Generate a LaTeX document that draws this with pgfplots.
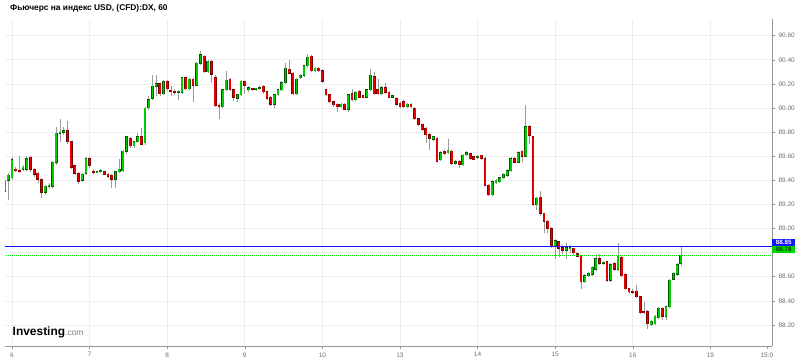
\documentclass[border=0pt]{standalone}
\usepackage{pgfplots}
\pgfplotsset{compat=1.18}
\usepackage{pgfplotstable}
\usepackage{fontspec}
\setmainfont{Liberation Sans}
\definecolor{cgreen}{RGB}{0,204,0}
\definecolor{cgreenD}{RGB}{0,85,0}
\definecolor{cred}{RGB}{230,0,0}
\definecolor{credD}{RGB}{120,0,0}
\definecolor{wick}{RGB}{155,155,155}
\definecolor{lblue}{RGB}{20,20,255}
\definecolor{lgreen}{RGB}{0,215,0}
\definecolor{ldot}{RGB}{0,225,0}
\definecolor{gridc}{RGB}{238,238,238}
\definecolor{axc}{RGB}{150,150,150}
\definecolor{tickc}{RGB}{110,110,110}

\pgfplotstableread{
i o h l c
-2 89.31 89.42 89.28 89.40
-1 89.40 89.46 89.24 89.44
0 89.42 89.59 89.40 89.57
1 89.49 89.51 89.47 89.48
2 89.48 89.60 89.46 89.47
3 89.49 89.53 89.48 89.51
4 89.49 89.60 89.48 89.58
5 89.59 89.60 89.47 89.49
6 89.49 89.50 89.43 89.45
7 89.46 89.47 89.38 89.41
8 89.41 89.42 89.25 89.30
9 89.30 89.36 89.28 89.35
10 89.35 89.38 89.33 89.36
11 89.35 89.56 89.33 89.55
12 89.55 89.84 89.53 89.79
13 89.79 89.91 89.72 89.80
14 89.80 89.84 89.78 89.81
15 89.81 89.89 89.70 89.72
16 89.72 89.73 89.49 89.51
17 89.52 89.53 89.44 89.46
18 89.46 89.47 89.37 89.39
19 89.40 89.46 89.39 89.45
20 89.46 89.59 89.44 89.58
21 89.58 89.59 89.50 89.52
22 89.475 89.49 89.45 89.465
23 89.468 89.48 89.46 89.473
24 89.47 89.49 89.46 89.48
25 89.47 89.48 89.44 89.45
26 89.45 89.46 89.42 89.435
27 89.44 89.45 89.34 89.41
28 89.41 89.48 89.34 89.47
29 89.47 89.58 89.46 89.49
30 89.48 89.65 89.47 89.64
31 89.64 89.77 89.62 89.76
32 89.75 89.76 89.67 89.685
33 89.685 89.73 89.67 89.72
34 89.72 89.79 89.71 89.76
35 89.76 89.83 89.69 89.70
36 89.71 90.01 89.69 90.00
37 90.00 90.10 89.98 90.07
38 90.08 90.27 90.07 90.18
39 90.18 90.27 90.10 90.20
40 90.20 90.21 90.10 90.12
41 90.12 90.23 90.11 90.22
42 90.22 90.23 90.14 90.16
43 90.145 90.18 90.10 90.135
44 90.14 90.16 90.11 90.13
45 90.13 90.15 90.07 90.14
46 90.13 90.26 90.12 90.25
47 90.25 90.26 90.15 90.16
48 90.16 90.25 90.15 90.24
49 90.24 90.25 90.05 90.19
50 90.19 90.38 90.18 90.37
51 90.37 90.47 90.36 90.44
52 90.43 90.44 90.29 90.30
53 90.30 90.40 90.29 90.39
54 90.39 90.40 90.21 90.28
55 90.25 90.27 90.01 90.02
56 90.02 90.04 89.91 90.01
57 90.01 90.16 90.00 90.15
58 90.15 90.31 90.14 90.23
59 90.24 90.25 90.14 90.15
60 90.15 90.16 90.06 90.09
61 90.08 90.12 90.05 90.11
62 90.11 90.23 90.10 90.22
63 90.22 90.23 90.12 90.19
64 90.15 90.18 90.13 90.17
65 90.16 90.17 90.14 90.15
66 90.155 90.17 90.14 90.165
67 90.16 90.18 90.15 90.17
68 90.18 90.19 90.12 90.135
69 90.135 90.14 90.07 90.08
70 90.09 90.10 90.02 90.03
71 90.03 90.12 90.00 90.11
72 90.11 90.16 90.10 90.15
73 90.15 90.22 90.14 90.21
74 90.21 90.37 90.20 90.33
75 90.32 90.40 90.28 90.29
76 90.29 90.30 90.11 90.12
77 90.12 90.25 90.11 90.24
78 90.25 90.28 90.24 90.27
79 90.27 90.36 90.26 90.35
80 90.35 90.45 90.34 90.42
81 90.43 90.44 90.30 90.31
82 90.31 90.34 90.30 90.33
83 90.33 90.34 90.30 90.31
84 90.31 90.32 90.21 90.22
85 90.15 90.16 90.10 90.11
86 90.11 90.12 90.04 90.05
87 90.05 90.06 90.01 90.025
88 90.03 90.04 89.97 90.01
89 90.01 90.04 90.00 90.03
90 90.03 90.04 89.98 89.99
91 89.99 90.12 89.97 90.11
92 90.12 90.16 90.06 90.07
93 90.07 90.14 90.06 90.13
94 90.14 90.15 90.08 90.09
95 90.10 90.11 90.08 90.09
96 90.09 90.16 90.08 90.15
97 90.15 90.32 90.14 90.27
98 90.26 90.30 90.11 90.12
99 90.15 90.24 90.11 90.12
100 90.12 90.18 90.11 90.17
101 90.17 90.21 90.12 90.13
102 90.13 90.14 90.08 90.09
103 90.09 90.11 90.08 90.10
104 90.08 90.09 90.02 90.03
105 90.04 90.05 90.00 90.01
106 90.05 90.07 90.00 90.01
107 90.01 90.04 90.00 90.03
108 90.03 90.04 90.00 90.01
109 90.00 90.01 89.90 89.91
110 89.91 89.92 89.85 89.86
111 89.86 89.87 89.81 89.82
112 89.83 89.84 89.71 89.78
113 89.78 89.79 89.65 89.75
114 89.74 89.77 89.73 89.76
115 89.75 89.76 89.55 89.56
116 89.57 89.64 89.56 89.63
117 89.64 89.65 89.61 89.62
118 89.63 89.74 89.62 89.65
119 89.64 89.65 89.53 89.54
120 89.54 89.57 89.53 89.555
121 89.56 89.57 89.50 89.53
122 89.53 89.62 89.52 89.61
123 89.61 89.64 89.60 89.63
124 89.62 89.63 89.57 89.58
125 89.595 89.60 89.57 89.576
126 89.59 89.61 89.58 89.60
127 89.607 89.61 89.57 89.58
128 89.58 89.59 89.35 89.36
129 89.36 89.37 89.27 89.28
130 89.28 89.40 89.27 89.39
131 89.38 89.41 89.37 89.40
132 89.39 89.43 89.38 89.42
133 89.42 89.46 89.41 89.45
134 89.44 89.49 89.43 89.48
135 89.48 89.59 89.47 89.58
136 89.58 89.59 89.54 89.55
137 89.55 89.64 89.54 89.63
138 89.64 89.65 89.55 89.60
139 89.60 90.025 89.59 89.845
140 89.845 89.86 89.70 89.775
141 89.76 89.77 89.19 89.20
142 89.195 89.26 89.15 89.25
143 89.26 89.31 89.10 89.125
144 89.125 89.13 88.96 89.06
145 89.06 89.07 88.96 89.00
146 89.00 89.01 88.84 88.85
147 88.85 88.91 88.75 88.90
148 88.89 88.90 88.76 88.835
149 88.84 88.86 88.79 88.82
150 88.82 88.88 88.75 88.84
151 88.83 88.86 88.80 88.84
152 88.835 88.84 88.78 88.80
153 88.79 88.80 88.76 88.77
154 88.77 88.78 88.50 88.56
155 88.56 88.62 88.55 88.61
156 88.61 88.64 88.60 88.63
157 88.62 88.69 88.61 88.68
158 88.66 88.79 88.65 88.75
159 88.75 88.79 88.70 88.71
160 88.71 88.73 88.70 88.72
161 88.725 88.73 88.56 88.57
162 88.57 88.71 88.56 88.70
163 88.71 88.72 88.65 88.66
164 88.66 88.88 88.65 88.77
165 88.76 88.77 88.60 88.61
166 88.62 88.63 88.49 88.50
167 88.50 88.51 88.46 88.475
168 88.48 88.50 88.46 88.47
169 88.48 88.53 88.42 88.435
170 88.435 88.44 88.29 88.30
171 88.31 88.39 88.29 88.30
172 88.31 88.32 88.17 88.21
173 88.20 88.24 88.19 88.23
174 88.21 88.28 88.20 88.27
175 88.26 88.35 88.25 88.34
176 88.34 88.35 88.24 88.27
177 88.27 88.36 88.24 88.35
178 88.35 88.58 88.34 88.57
179 88.58 88.64 88.57 88.63
180 88.62 88.71 88.61 88.70
181 88.71 88.85 88.69 88.78
}\candles

\begin{document}
\begin{tikzpicture}
\useasboundingbox (0,0) rectangle (800bp,361bp);
\begin{axis}[
  at={(5bp,15bp)}, anchor=south west,
  scale only axis, width=767bp, height=327bp,
  xmin=-1.894, xmax=205.68, ymin=88.025, ymax=90.7386,
  axis x line*=bottom, axis y line*=right,
  axis line style={draw=axc, line width=0.8bp},
  xtick={0,21,42,63,84,105,126,147,168,189},
  xticklabels={6,7,8,9,10,13,14,15,16,19},
  extra x ticks={204.3}, extra x tick labels={15:0},
  extra x tick style={grid=none},
  ytick={88.2,88.4,88.6,88.8,89.0,89.2,89.4,89.6,89.8,90.0,90.2,90.4,90.6},
  yticklabels={88.20,88.40,88.60,{},89.00,89.20,89.40,89.60,89.80,90.00,90.20,90.40,90.60},
  tick align=outside, major tick length=3bp,
  tick style={draw=axc, line width=0.5bp},
  ticklabel style={font=\fontsize{6.5}{7}\selectfont, text=tickc},
  xmajorgrids, ymajorgrids, grid style={draw=gridc, line width=0.6bp},
]
% wicks
\addplot[draw=none, mark=none, forget plot,
  error bars/.cd, y dir=plus, y explicit, error mark=none,
  error bar style={draw=wick, line width=0.6bp}]
  table[x=i, y=l, y error expr=\thisrow{h}-\thisrow{l}] {\candles};
% green bodies
\addplot[draw=none, mark=none, forget plot,
  restrict expr to domain={\thisrow{c}-\thisrow{o}}{0:10},
  error bars/.cd, y dir=plus, y explicit, error mark=none,
  error bar style={draw=cgreenD, line width=2.8bp}]
  table[x=i, y expr={min(\thisrow{o},\thisrow{c})-0.004}, y error expr={abs(\thisrow{c}-\thisrow{o})+0.008}] {\candles};
\addplot[draw=none, mark=none, forget plot,
  restrict expr to domain={\thisrow{c}-\thisrow{o}}{0:10},
  error bars/.cd, y dir=plus, y explicit, error mark=none,
  error bar style={draw=cgreen, line width=1.8bp}]
  table[x=i, y expr={min(\thisrow{o},\thisrow{c})}, y error expr={abs(\thisrow{c}-\thisrow{o})}] {\candles};
% red bodies
\addplot[draw=none, mark=none, forget plot,
  restrict expr to domain={\thisrow{c}-\thisrow{o}}{-10:-0.0001},
  error bars/.cd, y dir=plus, y explicit, error mark=none,
  error bar style={draw=credD, line width=2.8bp}]
  table[x=i, y expr={min(\thisrow{o},\thisrow{c})-0.004}, y error expr={abs(\thisrow{c}-\thisrow{o})+0.008}] {\candles};
\addplot[draw=none, mark=none, forget plot,
  restrict expr to domain={\thisrow{c}-\thisrow{o}}{-10:-0.0001},
  error bars/.cd, y dir=plus, y explicit, error mark=none,
  error bar style={draw=cred, line width=1.8bp}]
  table[x=i, y expr={min(\thisrow{o},\thisrow{c})}, y error expr={abs(\thisrow{c}-\thisrow{o})}] {\candles};
% level lines
\addplot[lblue, line width=1.3bp, forget plot] coordinates {(-5,88.85) (210,88.85)};
\addplot[ldot, line width=0.9bp, dash pattern=on 1bp off 1bp, forget plot] coordinates {(-5,88.78) (210,88.78)};
\coordinate (bl) at (axis cs:205.68,88.886);
\coordinate (gl) at (axis cs:205.68,88.824);
\end{axis}
\node[fill=lblue, text=white, font=\bfseries\fontsize{6.2}{6.5}\selectfont, anchor=west, inner sep=0pt, minimum width=23bp, minimum height=6.6bp, text height=4.4bp, text depth=0pt] at (bl) {88.85};
\node[fill=lgreen, text=black!75!green, font=\bfseries\fontsize{6.2}{6.5}\selectfont, anchor=west, inner sep=0pt, minimum width=23bp, minimum height=6.6bp, text height=4.4bp, text depth=0pt] at (gl) {88.78};
\node[anchor=west, inner sep=0pt, font=\bfseries\fontsize{8.4}{9}\selectfont] at (10bp,353bp) {Фьючерс на индекс USD, (CFD):DX, 60};
\node[anchor=base west, inner sep=0pt] at (12.5bp,26bp) {\fontsize{12}{12}\selectfont\bfseries Investing\fontsize{8.5}{9}\selectfont\mdseries\color{gray}.com};
\end{tikzpicture}
\end{document}
